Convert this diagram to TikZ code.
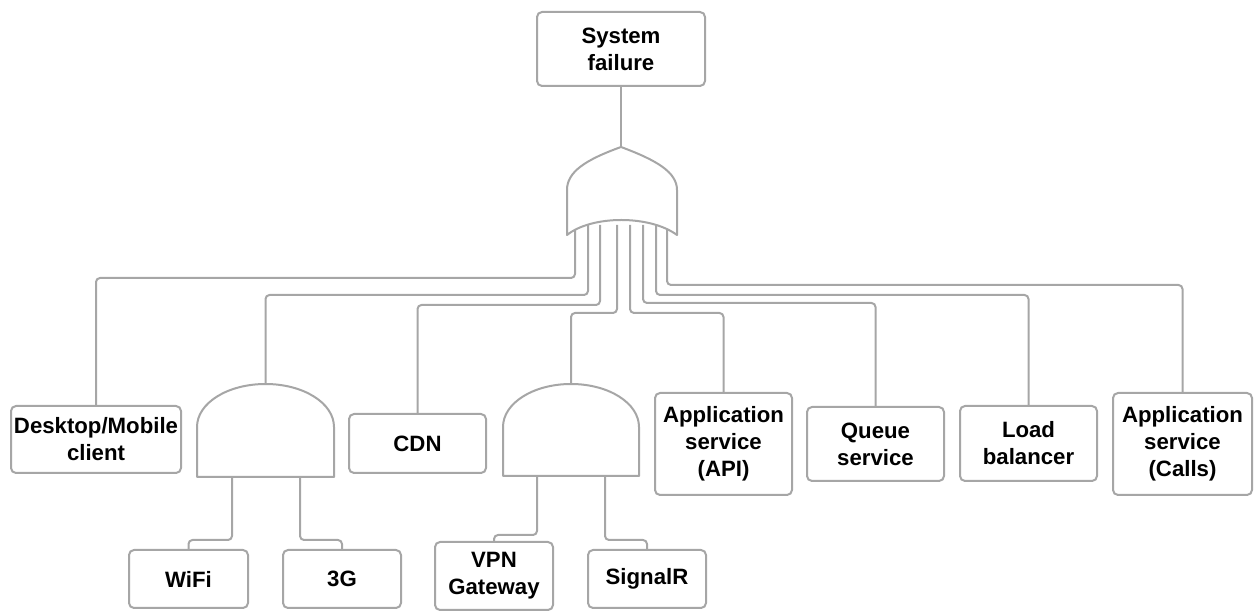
\documentclass[tikz,border=0pt]{standalone}
\usepackage{fontspec}
\setmainfont{Liberation Sans}
\definecolor{edgegray}{HTML}{A6A6A6}
\tikzset{
	event/.style={draw=edgegray, line width=1pt, rounded corners=2.5pt, fill=white, align=center, inner sep=0pt, font=\bfseries\fontsize{11.1}{13.5}\selectfont},
	wire/.style={draw=edgegray, line width=1pt, rounded corners=2pt},
	gate/.style={draw=edgegray, line width=1pt, fill=white, line join=round}
}
\begin{document}
\begin{tikzpicture}[x=0.5pt,y=-0.5pt]
	\useasboundingbox (0,0) rectangle (1257,613);
	% events
	\node[event,minimum width=84pt,minimum height=37pt] (sys) at (621,49) {System\\failure};
	\node[event,minimum width=85pt,minimum height=33.5pt] (desk) at (96,439.5) {Desktop/Mobile\\client};
	\node[event,minimum width=68.5pt,minimum height=29.5pt] (cdn) at (417.5,443.5) {CDN};
	\node[event,minimum width=68.5pt,minimum height=51pt] (api) at (723.5,444) {Application\\service\\(API)};
	\node[event,minimum width=68.5pt,minimum height=37pt] (queue) at (875.5,444) {Queue\\service};
	\node[event,minimum width=68.5pt,minimum height=37.5pt] (lb) at (1028.5,443.5) {Load\\balancer};
	\node[event,minimum width=69.5pt,minimum height=51pt] (calls) at (1182.5,444) {Application\\service\\(Calls)};
	\node[event,minimum width=59.5pt,minimum height=29pt] (wifi) at (188.5,579) {WiFi};
	\node[event,minimum width=59pt,minimum height=29pt] (g3) at (342,579) {3G};
	\node[event,minimum width=59pt,minimum height=34pt] (vpn) at (494,576) {VPN\\Gateway};
	\node[event,minimum width=59pt,minimum height=29pt] (signalr) at (647,579) {SignalR};
	% gate pins
	\coordinate (orTop) at (621,147);
	\coordinate (or1) at (575,225);
	\coordinate (or2) at (588,225);
	\coordinate (or3) at (600,225);
	\coordinate (or4) at (617,225);
	\coordinate (or5) at (630,225);
	\coordinate (or6) at (643,225);
	\coordinate (or7) at (656,225);
	\coordinate (or8) at (667,225);
	\coordinate (and1) at (265.5,384);
	\coordinate (and1a) at (232,477);
	\coordinate (and1b) at (300,477);
	\coordinate (and2) at (571,384);
	\coordinate (and2a) at (537,476);
	\coordinate (and2b) at (605,476);
	% wires
	\draw[wire] (sys.south) -- (orTop);
	\draw[wire] (or1) -- ++(0,53) -| (desk.north);
	\draw[wire] (or2) -- ++(0,70) -| (and1);
	\draw[wire] (or3) -- ++(0,80) -| (cdn.north);
	\draw[wire] (or4) -- ++(0,88) -| (and2);
	\draw[wire] (or5) -- ++(0,88) -| (api.north);
	\draw[wire] (or6) -- ++(0,78) -| (queue.north);
	\draw[wire] (or7) -- ++(0,70) -| (lb.north);
	\draw[wire] (or8) -- ++(0,60) -| (calls.north);
	\draw[wire] (and1a) -- ++(0,63) -| (wifi.north);
	\draw[wire] (and1b) -- ++(0,63) -| (g3.north);
	\draw[wire] (and2a) -- ++(0,59) -| (vpn.north);
	\draw[wire] (and2b) -- ++(0,64) -| (signalr.north);
	% OR gate
	\draw[gate] (567,235) -- (567,190) .. controls (567,172) and (585,160) .. (orTop)
		.. controls (656,160) and (677,172) .. (677,190) -- (677,235)
		.. controls (650,215) and (592,215) .. (567,235) -- cycle;
	% AND gates
	\draw[gate] (197,477) -- (197,427) .. controls (197,403) and (227.7,384) .. (and1)
		.. controls (303.3,384) and (334,403) .. (334,427) -- (334,477) -- cycle;
	\draw[gate] (503,476) -- (503,427) .. controls (503,403) and (533.5,384) .. (and2)
		.. controls (608.5,384) and (639,403) .. (639,427) -- (639,476) -- cycle;
\end{tikzpicture}
\end{document}
